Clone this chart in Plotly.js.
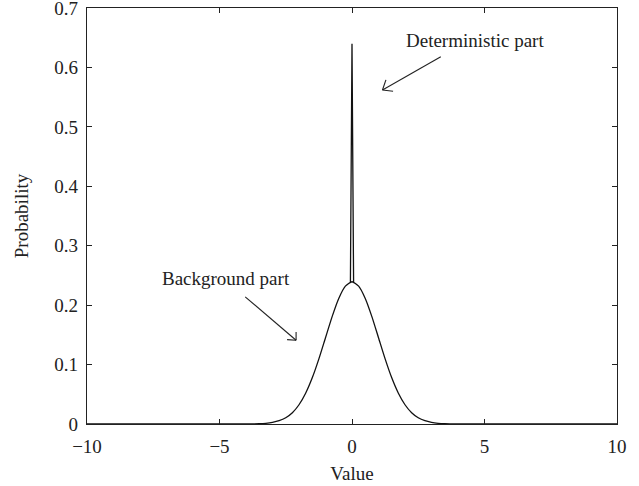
<!DOCTYPE html>
<html>
<head>
<meta charset="utf-8">
<script src="https://cdn.plot.ly/plotly-3.0.1.min.js"></script>
<style>html,body{margin:0;padding:0;background:#fff;}#chart{width:639px;height:486px;}</style>
</head>
<body>
<div id="chart"></div>
<script>
// Values
// background (smooth) part
const bgX = [-10, -4, -3.5, -3.25, -3, -2.75, -2.5, -2.25, -2, -1.75, -1.5, -1.25, -1, -0.75, -0.5, -0.25, 0, 0.25, 0.5, 0.75, 1, 1.25, 1.5, 1.75, 2, 2.25, 2.5, 2.75, 3, 3.25, 3.5, 4, 10];
const bgY = [0, 0.0001, 0.0005, 0.0012, 0.0027, 0.0055, 0.0105, 0.019, 0.0324, 0.0518, 0.0777, 0.1096, 0.1452, 0.1807, 0.2113, 0.232, 0.2394, 0.232, 0.2113, 0.1807, 0.1452, 0.1096, 0.0777, 0.0518, 0.0324, 0.019, 0.0105, 0.0055, 0.0027, 0.0012, 0.0005, 0.0001, 0];
// deterministic spike
const spikeX = [-0.06, 0, 0.06];
const spikeY = [0.239, 0.64, 0.239];
const xTicks = [-10, -5, 0, 5, 10];
const yTicks = [0, 0.1, 0.2, 0.3, 0.4, 0.5, 0.6, 0.7];
const xTitle = "Value";
const yTitle = "Probability";
const labelDet = "Deterministic part";
const labelBg = "Background part";

const font = {family: "Liberation Serif, Times New Roman, serif", size: 19, color: "#222"};

const traces = [
  {x: bgX, y: bgY, type: "scatter", mode: "lines",
   line: {color: "#111", width: 1.3, shape: "spline", smoothing: 0.6}, hoverinfo: "skip"},
  {x: spikeX, y: spikeY, type: "scatter", mode: "lines",
   line: {color: "#111", width: 1.3}, hoverinfo: "skip"}
];

const axisCommon = {
  showgrid: false, zeroline: false, showline: true, linecolor: "#222", linewidth: 1.2,
  mirror: "allticks", ticks: "inside", ticklen: 5, tickcolor: "#222", tickwidth: 1,
  tickfont: font, ticklabeloverflow: "allow", automargin: false
};

// arrow geometry (data units): head, tail, and the two open-V arms
const arrowDet = {head: [1.15, 0.562], tail: [3.35, 0.618], arm1: [1.55, 0.560], arm2: [1.28, 0.579]};
const arrowBg = {head: [-2.11, 0.141], tail: [-4.03, 0.214], arm1: [-2.45, 0.142], arm2: [-2.11, 0.155]};

function arrowShapes(a) {
  const ln = {color: "#222", width: 1.1};
  return [
    {type: "line", xref: "x", yref: "y", x0: a.tail[0], y0: a.tail[1], x1: a.head[0], y1: a.head[1], line: ln},
    {type: "line", xref: "x", yref: "y", x0: a.arm1[0], y0: a.arm1[1], x1: a.head[0], y1: a.head[1], line: ln},
    {type: "line", xref: "x", yref: "y", x0: a.arm2[0], y0: a.arm2[1], x1: a.head[0], y1: a.head[1], line: ln}
  ];
}

const layout = {
  width: 639, height: 486,
  margin: {l: 87, r: 22, t: 8, b: 62},
  paper_bgcolor: "#fff", plot_bgcolor: "#fff",
  showlegend: false,
  font: font,
  xaxis: Object.assign({}, axisCommon, {
    range: [-10, 10], tickvals: xTicks, ticktext: xTicks.map(v => v < 0 ? "\u2212" + Math.abs(v) : String(v)),
    ticklabelstandoff: 5,
    title: {text: xTitle, font: font, standoff: 10}
  }),
  yaxis: Object.assign({}, axisCommon, {
    range: [0, 0.7], tickvals: yTicks, ticktext: yTicks.map(v => String(v)),
    ticklabelstandoff: 4,
    title: {text: yTitle, font: font, standoff: 20}
  }),
  shapes: arrowShapes(arrowDet).concat(arrowShapes(arrowBg)),
  annotations: [
    {x: 4.65, y: 0.646, xref: "x", yref: "y", text: labelDet, showarrow: false, font: font},
    {x: -4.75, y: 0.245, xref: "x", yref: "y", text: labelBg, showarrow: false, font: font}
  ]
};

Plotly.newPlot("chart", traces, layout, {displayModeBar: false, staticPlot: true});
</script>
</body>
</html>
